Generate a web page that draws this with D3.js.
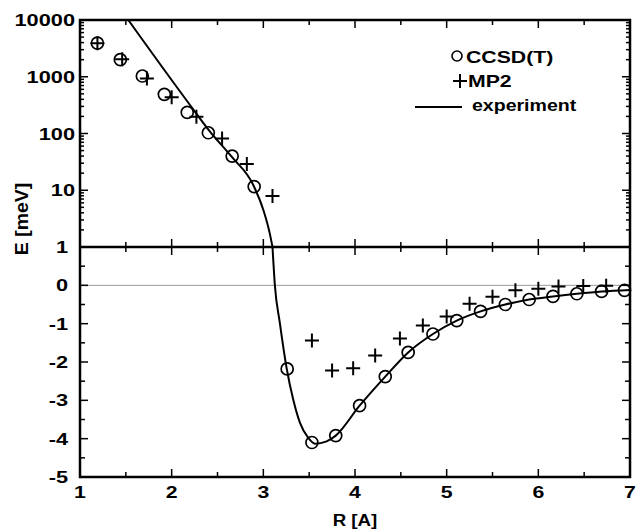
<!DOCTYPE html>
<html>
<head>
<meta charset="utf-8">
<script src="https://cdn.jsdelivr.net/npm/d3@7"></script>
<style>
  body { margin: 0; background: #fff; }
  text { font-family: "Liberation Sans", Arial, sans-serif; font-weight: bold; fill: #000; }
</style>
</head>
<body>
<div id="chart"></div>
<script>
// CCSD(T) points, R in Angstrom, E in meV
let ccsdR = [1.19, 1.44, 1.68, 1.92, 2.17, 2.40, 2.66, 2.90, 3.26, 3.53, 3.79, 4.05, 4.33, 4.58, 4.85, 5.11, 5.37, 5.64, 5.90, 6.16, 6.42, 6.69, 6.94];
let ccsdE = [3900, 2000, 1030, 490, 235, 103, 40, 11.6, -2.18, -4.1, -3.92, -3.14, -2.38, -1.75, -1.27, -0.92, -0.68, -0.50, -0.37, -0.29, -0.22, -0.16, -0.13];

// MP2 points
let mp2R = [1.19, 1.46, 1.73, 2.00, 2.27, 2.55, 2.82, 3.10, 3.53, 3.75, 3.98, 4.22, 4.49, 4.74, 5.00, 5.25, 5.50, 5.75, 6.00, 6.22, 6.49, 6.74];
let mp2E = [3900, 2030, 935, 435, 198, 82, 29, 7.9, -1.44, -2.22, -2.16, -1.83, -1.39, -1.05, -0.81, -0.48, -0.30, -0.13, -0.09, -0.03, -0.02, -0.01];

// experimental curve
let expR = [1.527, 2.20, 2.418, 2.654, 2.89, 3.00, 3.07, 3.10, 3.126, 3.18, 3.254, 3.326, 3.40, 3.49, 3.563, 3.69, 3.79, 4.05, 4.33, 4.58, 4.85, 5.11, 5.37, 5.64, 5.90, 6.16, 6.42, 6.69, 7.0];
let expE = [10000, 318, 108, 39, 12.4, 4.5, 1.74, 1, 0, -0.98, -2.16, -2.98, -3.59, -3.98, -4.13, -4.07, -3.92, -3.14, -2.38, -1.75, -1.27, -0.92, -0.68, -0.50, -0.37, -0.29, -0.22, -0.16, -0.12];

// tick labels
let xTicks = [1, 2, 3, 4, 5, 6, 7];
let xMinor = [1.5, 2.5, 3.5, 4.5, 5.5, 6.5];
let topTicks = [10, 100, 1000, 10000];
let botTicks = [1, 0, -1, -2, -3, -4, -5];
let botMinor = [0.5, -0.5, -1.5, -2.5, -3.5, -4.5];

let width = 636, height = 529;
let pLeft = 80, pRight = 630, pTop = 20, pMid = 247, pBottom = 477;

let svg = d3.select("#chart").append("svg")
    .attr("width", width)
    .attr("height", height);

let x = d3.scaleLinear().domain([1, 7]).range([pLeft, pRight]);
let yTop = d3.scaleLog().domain([1, 10000]).range([pMid, pTop]);
let yBot = d3.scaleLinear().domain([-5, 1]).range([pBottom, pMid]);

// minor log ticks 2..9 per decade
let logMinor = [];
for (let d = 1; d < 10000; d *= 10) {
    for (let k = 2; k < 10; k++) logMinor.push(d * k);
}

function tick(x1, y1, x2, y2) {
    svg.append("line")
        .attr("x1", x1).attr("y1", y1).attr("x2", x2).attr("y2", y2)
        .attr("stroke", "#000").attr("stroke-width", 1.5);
}

function label(px, py, txt, anchor, sx) {
    svg.append("text")
        .attr("transform", "translate(" + px + "," + py + ") scale(" + sx + ",1)")
        .attr("text-anchor", anchor)
        .style("font-size", "17px")
        .text(txt);
}

// zero line in lower panel
svg.append("line")
    .attr("x1", pLeft).attr("x2", pRight)
    .attr("y1", yBot(0)).attr("y2", yBot(0))
    .attr("stroke", "#999").attr("stroke-width", 1);

// x ticks: top border, both sides of the separator, bottom border
xTicks.forEach(function(v) {
    tick(x(v), pTop, x(v), pTop + 8);
    tick(x(v), pMid, x(v), pMid - 8);
    tick(x(v), pMid, x(v), pMid + 8);
    tick(x(v), pBottom, x(v), pBottom - 8);
    label(x(v), 498, v, "middle", 1.25);
});
xMinor.forEach(function(v) {
    tick(x(v), pTop, x(v), pTop + 5);
    tick(x(v), pMid, x(v), pMid - 5);
    tick(x(v), pMid, x(v), pMid + 5);
    tick(x(v), pBottom, x(v), pBottom - 5);
});

// y ticks upper panel
topTicks.forEach(function(v) {
    tick(pLeft, yTop(v), pLeft + 8, yTop(v));
    tick(pRight, yTop(v), pRight - 8, yTop(v));
    label(75, yTop(v) + 6, v, "end", 1.28);
});
logMinor.forEach(function(v) {
    tick(pLeft, yTop(v), pLeft + 4, yTop(v));
    tick(pRight, yTop(v), pRight - 4, yTop(v));
});

// y ticks lower panel
botTicks.forEach(function(v) {
    tick(pLeft, yBot(v), pLeft + 8, yBot(v));
    tick(pRight, yBot(v), pRight - 8, yBot(v));
    label(68, yBot(v) + 6, v, "end", 1.28);
});
botMinor.forEach(function(v) {
    tick(pLeft, yBot(v), pLeft + 5, yBot(v));
    tick(pRight, yBot(v), pRight - 5, yBot(v));
});

// experiment curve, split between the two panels
let expTop = [], expBot = [];
for (let i = 0; i < expR.length; i++) {
    if (expE[i] >= 1) expTop.push([expR[i], expE[i]]);
    if (expE[i] <= 1) expBot.push([expR[i], expE[i]]);
}
svg.append("path")
    .datum(expTop)
    .attr("fill", "none").attr("stroke", "#000").attr("stroke-width", 2)
    .attr("d", d3.line().x(d => x(d[0])).y(d => yTop(d[1])).curve(d3.curveMonotoneX));
svg.append("path")
    .datum(expBot)
    .attr("fill", "none").attr("stroke", "#000").attr("stroke-width", 2)
    .attr("d", d3.line().x(d => x(d[0])).y(d => yBot(d[1])).curve(d3.curveMonotoneX));

function yPos(e) {
    return e >= 1 ? yTop(e) : yBot(e);
}

// CCSD(T) circles
let ccsd = ccsdR.map((r, i) => [r, ccsdE[i]]);
svg.selectAll(".ccsd").data(ccsd).enter()
    .append("circle")
    .attr("class", "ccsd")
    .attr("cx", d => x(d[0]))
    .attr("cy", d => yPos(d[1]))
    .attr("r", 6)
    .attr("fill", "none").attr("stroke", "#000").attr("stroke-width", 1.7);

// MP2 pluses
let mp2 = mp2R.map((r, i) => [r, mp2E[i]]);
svg.selectAll(".mp2").data(mp2).enter()
    .append("path")
    .attr("class", "mp2")
    .attr("d", d => "M" + (x(d[0]) - 7) + "," + yPos(d[1]) + "h14M" + x(d[0]) + "," + (yPos(d[1]) - 7) + "v14")
    .attr("fill", "none").attr("stroke", "#000").attr("stroke-width", 2);

// frame and separator
svg.append("rect")
    .attr("x", pLeft).attr("y", pTop)
    .attr("width", pRight - pLeft).attr("height", pBottom - pTop)
    .attr("fill", "none").attr("stroke", "#000").attr("stroke-width", 2.5);
svg.append("line")
    .attr("x1", pLeft).attr("x2", pRight).attr("y1", pMid).attr("y2", pMid)
    .attr("stroke", "#000").attr("stroke-width", 2.5);

// legend
svg.append("circle")
    .attr("cx", 457).attr("cy", 56).attr("r", 5)
    .attr("fill", "none").attr("stroke", "#000").attr("stroke-width", 1.6);
label(466, 63, "CCSD(T)", "start", 1.25);
svg.append("path")
    .attr("d", "M453,81h14M460,74v14")
    .attr("stroke", "#000").attr("stroke-width", 2);
label(468, 87, "MP2", "start", 1.25);
svg.append("line")
    .attr("x1", 415).attr("x2", 462).attr("y1", 107).attr("y2", 107)
    .attr("stroke", "#000").attr("stroke-width", 2);
label(472, 111, "experiment", "start", 1.15);

// axis titles
svg.append("text")
    .attr("transform", "translate(28,219) rotate(-90) scale(1.08,1)")
    .attr("text-anchor", "middle")
    .style("font-size", "18px")
    .text("E [meV]");
label(355, 526, "R [A]", "middle", 1.1);
</script>
</body>
</html>
